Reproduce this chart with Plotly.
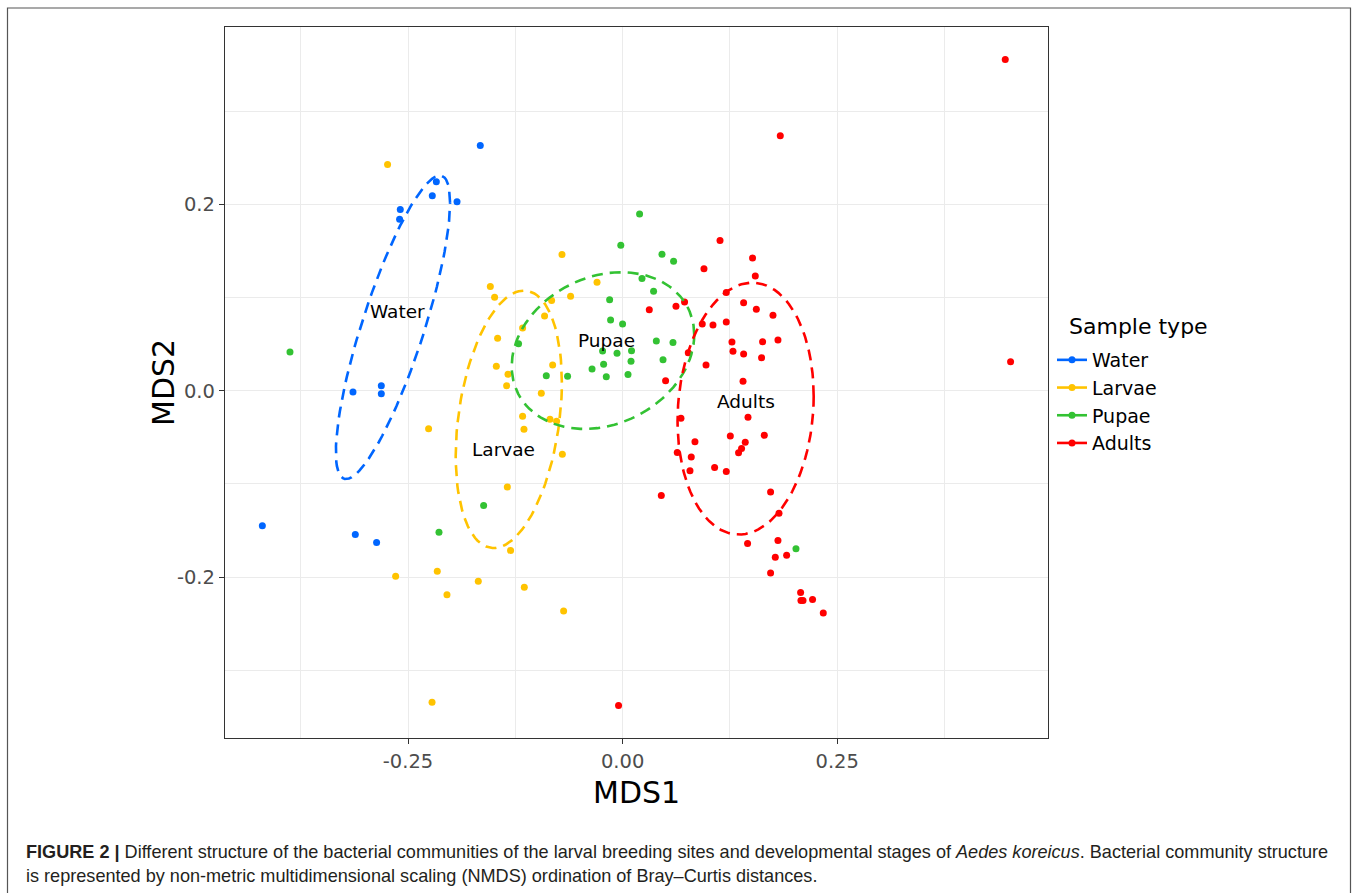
import numpy as np
import plotly.graph_objects as go

# ---------------- data ----------------
groups = ["Water", "Larvae", "Pupae", "Adults"]
group_colors = ["#0066ff", "#ffc300", "#33c233", "#ff0000"]

water_x = [-0.1658, -0.2170, -0.2217, -0.1929, -0.2590, -0.2598, -0.2811, -0.2811,
           -0.3141, -0.4197, -0.3114, -0.2866]
water_y = [0.2632, 0.2242, 0.2091, 0.2027, 0.1944, 0.1841, 0.0054, -0.0032,
           -0.0014, -0.1450, -0.1542, -0.1628]

larvae_x = [-0.2738, -0.1541, -0.1491, -0.0706, -0.0298, -0.0606, -0.0827, -0.0909,
            -0.1165, -0.1456, -0.1471, -0.1335, -0.0815, -0.1351, -0.0947, -0.1165,
            -0.1149, -0.0846, -0.0769, -0.2260, -0.0702, -0.1343, -0.1305, -0.2644,
            -0.2159, -0.2046, -0.1681, -0.1145, -0.0687, -0.2220]
larvae_y = [0.2427, 0.1117, 0.1003, 0.1461, 0.1164, 0.1014, 0.0967, 0.0802,
            0.0673, 0.0563, 0.0262, 0.0176, 0.0276, 0.0054, -0.0028, -0.0275,
            -0.0415, -0.0307, -0.0329, -0.0408, -0.0683, -0.1034, -0.1714, -0.1990,
            -0.1937, -0.2191, -0.2044, -0.2108, -0.2363, -0.3344]

pupae_x = [-0.3875, 0.0198, -0.0021, 0.0459, 0.0594, 0.0226, 0.0361, -0.0151,
           -0.0140, 0.0000, -0.1212, -0.0233, -0.0065, 0.0104, 0.0098, -0.0221,
           -0.0356, -0.0889, -0.0641, -0.0190, 0.0063, 0.0393, 0.0587, 0.0471,
           -0.1619, -0.2139, 0.2020]
pupae_y = [0.0416, 0.1895, 0.1562, 0.1465, 0.1390, 0.1203, 0.1068, 0.0977,
           0.0759, 0.0716, 0.0505, 0.0426, 0.0402, 0.0430, 0.0317, 0.0284,
           0.0233, 0.0161, 0.0155, 0.0150, 0.0174, 0.0534, 0.0516, 0.0333,
           -0.1231, -0.1518, -0.1697]

adults_x = [0.4458, 0.1837, 0.1135, 0.1514, 0.0948, 0.1546, 0.1208, 0.0722,
            0.0311, 0.0622, 0.1410, 0.1558, 0.1752, 0.0928, 0.1053, 0.1208,
            0.1274, 0.1631, 0.1810, 0.1286, 0.1410, 0.1619, 0.0765, 0.0972,
            0.0501, 0.1403, 0.4520, 0.0680, 0.1461, 0.0843, 0.1255, 0.1429,
            0.1651, 0.1386, 0.1351, 0.0637, 0.0800, 0.0785, 0.1072, 0.1208,
            0.0451, 0.1724, 0.1822, 0.1456, 0.1810, 0.1779, 0.1911, 0.1724,
            0.2074, 0.2078, 0.2102, 0.2213, 0.2338, -0.0047]
adults_y = [0.3555, 0.2736, 0.1611, 0.1425, 0.1310, 0.1232, 0.1053, 0.0953,
            0.0870, 0.0907, 0.0945, 0.0874, 0.0810, 0.0716, 0.0706, 0.0738,
            0.0523, 0.0526, 0.0545, 0.0423, 0.0394, 0.0354, 0.0408, 0.0276,
            0.0107, 0.0102, 0.0311, -0.0296, -0.0286, -0.0548, -0.0487, -0.0554,
            -0.0479, -0.0619, -0.0666, -0.0662, -0.0712, -0.0859, -0.0823, -0.0866,
            -0.1124, -0.1088, -0.1314, -0.1639, -0.1607, -0.1786, -0.1765, -0.1955,
            -0.2165, -0.2251, -0.2251, -0.2241, -0.2385, -0.3379]

group_x = [water_x, larvae_x, pupae_x, adults_x]
group_y = [water_y, larvae_y, pupae_y, adults_y]

# group label positions
label_x = [-0.2625, -0.1384, -0.0190, 0.1441]
label_y = [0.0845, -0.0626, 0.0534, -0.0121]

# axes
x_range = [-0.4632, 0.4956]
y_range = [-0.3727, 0.3903]
x_ticks = [-0.25, 0.0, 0.25]
x_ticklabels = ["-0.25", "0.00", "0.25"]
x_minor = [-0.375, -0.125, 0.125, 0.375]
y_ticks = [-0.2, 0.0, 0.2]
y_ticklabels = ["-0.2", "0.0", "0.2"]
y_minor = [-0.3, -0.1, 0.1, 0.3]

legend_title = "Sample type"
caption_line1 = ("<b>FIGURE 2 |</b> Different structure of the bacterial communities of the larval "
                 "breeding sites and developmental stages of <i>Aedes koreicus</i>. Bacterial community structure")
caption_line2 = ("is represented by non-metric multidimensional scaling (NMDS) ordination of "
                 "Bray\u2013Curtis distances.")


def sd_ellipse(x, y, npoints=100):
    """1-SD covariance ellipse around the group centroid (vegan ordiellipse kind='sd')."""
    pts = np.column_stack([x, y])
    center = pts.mean(axis=0)
    cov = np.cov(pts, rowvar=False)
    upper = np.linalg.cholesky(cov).T
    theta = np.arange(npoints + 1) * 2 * np.pi / npoints
    circle = np.column_stack([np.cos(theta), np.sin(theta)])
    ell = center + circle @ upper
    return ell[:, 0], ell[:, 1]


# ---------------- figure ----------------
W, H = 1358, 893
ML, MR, MT, MB = 225, 310, 27, 155
PW, PH = W - ML - MR, H - MT - MB


def px_to_paper_x(px):
    return (px - ML) / PW


def px_to_paper_y(py):
    return (H - MB - py) / PH


fig = go.Figure()

for g, c, xs, ys in zip(groups, group_colors, group_x, group_y):
    fig.add_trace(go.Scatter(x=xs, y=ys, mode="markers", name=g,
                             marker=dict(color=c, size=7, line=dict(width=0)),
                             showlegend=False, hoverinfo="skip"))

for g, c, xs, ys in zip(groups, group_colors, group_x, group_y):
    ex, ey = sd_ellipse(xs, ys)
    fig.add_trace(go.Scatter(x=ex, y=ey, mode="lines", name=g,
                             line=dict(color=c, width=2.6, dash="11px,7px"),
                             showlegend=False, hoverinfo="skip"))

# legend entries (point + line key)
for g, c in zip(groups, group_colors):
    fig.add_trace(go.Scatter(x=[None], y=[None], mode="lines+markers", name=g,
                             line=dict(color=c, width=2.6),
                             marker=dict(color=c, size=7)))

# group labels
for g, lx, ly in zip(groups, label_x, label_y):
    fig.add_annotation(x=lx, y=ly, text=g, showarrow=False,
                       font=dict(family="DejaVu Sans", size=18.5, color="black"),
                       xanchor="center", yanchor="middle")

# axis titles
fig.add_annotation(xref="paper", yref="paper", x=px_to_paper_x(636.5), y=px_to_paper_y(792),
                   text="MDS1", showarrow=False, xanchor="center", yanchor="middle",
                   font=dict(family="DejaVu Sans", size=30, color="black"))
fig.add_annotation(xref="paper", yref="paper", x=px_to_paper_x(163), y=px_to_paper_y(383),
                   text="MDS2", showarrow=False, xanchor="center", yanchor="middle", textangle=-90,
                   font=dict(family="DejaVu Sans", size=30, color="black"))

# legend title
fig.add_annotation(xref="paper", yref="paper", x=px_to_paper_x(1067), y=px_to_paper_y(327),
                   text=legend_title, showarrow=False, xanchor="left", yanchor="middle",
                   font=dict(family="DejaVu Sans", size=22, color="black"))

# caption
fig.add_annotation(xref="paper", yref="paper", x=px_to_paper_x(24), y=px_to_paper_y(852),
                   text=caption_line1, showarrow=False, xanchor="left", yanchor="middle",
                   font=dict(family="Liberation Sans", size=18.1, color="#231f20"))
fig.add_annotation(xref="paper", yref="paper", x=px_to_paper_x(24), y=px_to_paper_y(876),
                   text=caption_line2, showarrow=False, xanchor="left", yanchor="middle",
                   font=dict(family="Liberation Sans", size=18.1, color="#231f20"))

# outer frame
fig.add_shape(type="rect", xref="paper", yref="paper",
              x0=px_to_paper_x(7.5), x1=px_to_paper_x(1350.5),
              y0=px_to_paper_y(905), y1=px_to_paper_y(8),
              line=dict(color="#555555", width=1.2), fillcolor="rgba(0,0,0,0)", layer="below")

axis_common = dict(
    showgrid=True, gridcolor="#ebebeb", gridwidth=1.1,
    zeroline=False, showline=True, mirror=True, linecolor="#333333", linewidth=1.3,
    ticks="outside", ticklen=5, tickwidth=1.1, tickcolor="#333333",
    tickfont=dict(family="DejaVu Sans", size=19.5, color="#4d4d4d"),
)

fig.update_xaxes(range=x_range, tickmode="array", tickvals=x_ticks, ticktext=x_ticklabels,
                 minor=dict(tickmode="array", tickvals=x_minor, showgrid=True,
                            gridcolor="#ebebeb", gridwidth=0.8, ticklen=0),
                 **axis_common)
fig.update_yaxes(range=y_range, tickmode="array", tickvals=y_ticks, ticktext=y_ticklabels,
                 minor=dict(tickmode="array", tickvals=y_minor, showgrid=True,
                            gridcolor="#ebebeb", gridwidth=0.8, ticklen=0),
                 **axis_common)

fig.update_layout(
    width=W, height=H,
    margin=dict(l=ML, r=MR, t=MT, b=MB, autoexpand=False),
    paper_bgcolor="white", plot_bgcolor="white",
    font=dict(family="DejaVu Sans"),
    showlegend=True,
    legend=dict(
        font=dict(family="DejaVu Sans", size=19, color="black"),
        x=px_to_paper_x(1052), y=px_to_paper_y(341), xanchor="left", yanchor="top",
        bgcolor="rgba(0,0,0,0)", borderwidth=0, itemwidth=30,
        tracegroupgap=0,
    ),
)

fig.write_html("out.html")
